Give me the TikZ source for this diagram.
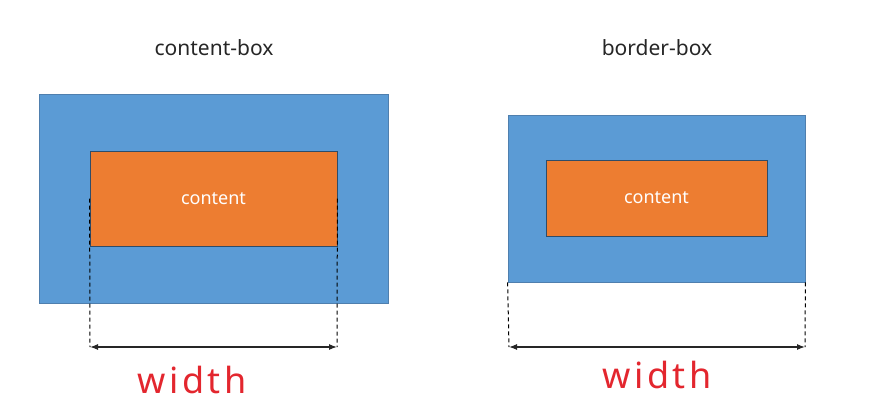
\documentclass[tikz,border=0pt]{standalone}
\usepackage{fontspec}
\setmainfont{Noto Sans}
\usetikzlibrary{arrows.meta,positioning}
\definecolor{boxblue}{HTML}{5B9BD5}
\definecolor{boxorange}{HTML}{ED7D31}
\definecolor{boxedge}{HTML}{4F7FAE}
\definecolor{penred}{HTML}{E3262E}
\tikzset{
  outerbox/.style={draw=boxedge,fill=boxblue,line width=.8pt,inner sep=0pt},
  innerbox/.style={draw=boxedge!60!black,fill=boxorange,line width=.8pt,inner sep=0pt,
    text=white,font=\fontsize{18}{20}\selectfont},
  boxtitle/.style={font=\fontsize{21}{24}\selectfont,text=black!85},
  guide/.style={line width=1pt,black,dash pattern=on 4pt off 3pt},
  dimline/.style={{Latex[length=8pt,width=6pt]}-{Latex[length=8pt,width=6pt]},line width=1.2pt,black!85},
  penlabel/.style={font=\fontsize{36}{38}\selectfont\addfontfeatures{LetterSpace=10},text=penred}
}

\begin{document}
\begin{tikzpicture}[x=1pt,y=-1pt]
        \useasboundingbox (0,0) rectangle (885,405);
        % content-box
        \node[boxtitle] (ctitle) at (214,48) {content-box};
        \node[outerbox,minimum width=349pt,minimum height=209pt] (cout) at (213.5,198.5) {};
        \node[innerbox,minimum width=247pt,minimum height=95pt] (cin) at (213.5,198.5) {content};
        \coordinate (cl) at (90,347);
        \coordinate (cr) at (337,347);
        \draw[guide] (cin.west) -- (cl);
        \draw[guide] (cin.east) -- (cr);
        \draw[dimline] (cl) -- (cr);
        \node[penlabel] (cw) at (192,380) {\bfseries width};
        % border-box
        \node[boxtitle] (btitle) at (657,48) {border-box};
        \node[outerbox,minimum width=297pt,minimum height=167pt] (bout) at (656.5,198.5) {};
        \node[innerbox,minimum width=221pt,minimum height=76pt] (bin) at (656.5,198) {content};
        \coordinate (bl) at (509,347);
        \coordinate (br) at (805,347);
        \draw[guide] (bout.south west) -- (bl);
        \draw[guide] (bout.south east) -- (br);
        \draw[dimline] (bl) -- (br);
        \node[penlabel] (bw) at (657,375) {\bfseries width};
      \end{tikzpicture}
\end{document}
